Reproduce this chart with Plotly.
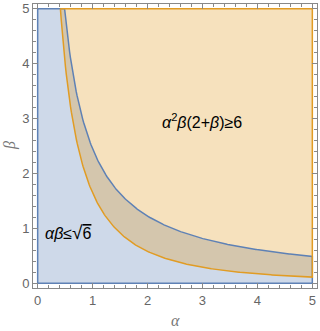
import numpy as np
import plotly.graph_objects as go

# Region definitions
blue_bound = np.sqrt(6)      # alpha*beta <= sqrt(6)
orange_bound = 6.0           # alpha^2 * beta * (2 + beta) >= 6
a_min, a_max = 0.0, 5.0
b_min, b_max = 0.0, 5.0
tick_vals = [0, 1, 2, 3, 4, 5]
tick_text = ["0", "1", "2", "3", "4", "5"]

BLUE = "#5e81b5"
ORANGE = "#e19c24"

# blue region boundary: beta = sqrt(6)/alpha
a_b0 = blue_bound / b_max
a_blue = np.linspace(a_b0, a_max, 300)
b_blue = blue_bound / a_blue
bx = np.concatenate([[a_min, a_min], a_blue, [a_max, a_min]])
by = np.concatenate([[b_min, b_max], b_blue, [b_min, b_min]])

# orange region boundary: alpha^2 beta (2+beta) = 6
a_o0 = np.sqrt(orange_bound / (b_max * (2 + b_max)))
a_or = np.linspace(a_max, a_o0, 300)
b_or = -1 + np.sqrt(1 + orange_bound / a_or**2)
ox = np.concatenate([[a_o0, a_max], a_or])
oy = np.concatenate([[b_max, b_max], b_or])
ox = np.append(ox, a_o0)
oy = np.append(oy, b_max)

fig = go.Figure()
fig.add_trace(go.Scatter(x=bx, y=by, fill="toself", mode="none",
                         fillcolor="rgba(94,129,181,0.3)", hoverinfo="skip"))
fig.add_trace(go.Scatter(x=ox, y=oy, fill="toself", mode="none",
                         fillcolor="rgba(225,156,36,0.3)", hoverinfo="skip"))
fig.add_trace(go.Scatter(x=bx, y=by, mode="lines",
                         line=dict(color=BLUE, width=1.5), hoverinfo="skip"))
fig.add_trace(go.Scatter(x=ox, y=oy, mode="lines",
                         line=dict(color=ORANGE, width=1.5), hoverinfo="skip"))

axis_common = dict(
    range=[-0.085, 5.085], showgrid=False, zeroline=False, automargin=False,
    showline=True, mirror="ticks", linecolor="#888", linewidth=1,
    ticks="inside", ticklen=5, tickcolor="#888", tickwidth=1,
    tickvals=tick_vals, ticktext=tick_text,
    tickfont=dict(family="Liberation Sans", size=13, color="#666"),
    minor=dict(ticks="inside", ticklen=3, dtick=0.2, tickcolor="#888", showgrid=False),
)
fig.update_xaxes(**axis_common)
fig.update_yaxes(**axis_common)

fig.add_annotation(x=3.0, y=2.95, xref="x", yref="y", showarrow=False,
                   text="<i>α</i><sup>2</sup><i>β</i>(2+<i>β</i>)≥6",
                   font=dict(family="Liberation Sans", size=16, color="black"))
fig.add_annotation(x=0.55, y=0.93, xref="x", yref="y", showarrow=False,
                   text="<i>αβ</i>≤<span style='font-size:19px'>√</span><span style='text-decoration:overline'>6</span>",
                   font=dict(family="Liberation Sans", size=16, color="black"))

fig.add_annotation(x=0.5, y=0, xref="paper", yref="paper", yshift=-32,
                   yanchor="middle", showarrow=False, text="<i>α</i>",
                   font=dict(family="Liberation Serif", size=16, color="#777"))
fig.add_annotation(x=0, y=0.5, xref="paper", yref="paper", xshift=-23,
                   xanchor="center", showarrow=False, text="<i>β</i>", textangle=-90,
                   font=dict(family="Liberation Serif", size=16, color="#777"))

fig.update_layout(width=320, height=331, showlegend=False,
                  margin=dict(l=33, r=3, t=4, b=43),
                  plot_bgcolor="white", paper_bgcolor="white")
fig.write_html("out.html", config={"displayModeBar": False},
               post_script="document.body.style.margin='0';document.body.style.overflow='hidden';")
